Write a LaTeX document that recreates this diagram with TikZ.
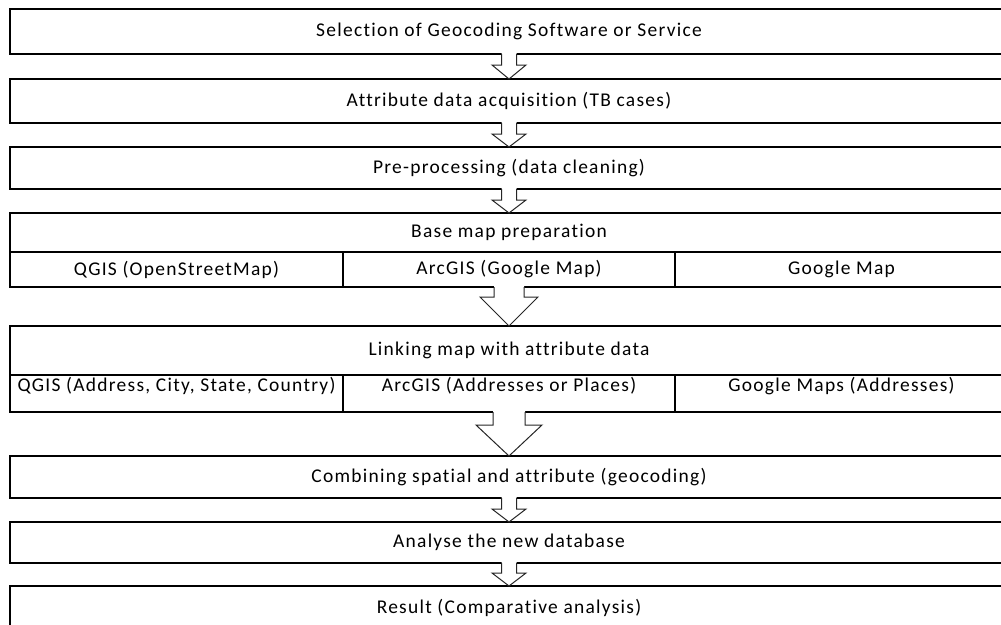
\documentclass[tikz,border=0pt]{standalone}
\usepackage{fontspec}
\setmainfont{Carlito}
\newfontfamily\boxfont{Carlito}[LetterSpace=6.5,Ligatures=NoCommon]
\usepackage{tikz}
\usetikzlibrary{calc,positioning}

\newdimen\px
\px=0.75pt

\tikzset{
  stage/.style={draw=black,line width=1.3\px,inner sep=0pt,outer sep=0pt,
    minimum width=998\px,anchor=center},
  cell/.style={draw=black,line width=1.3\px,inner sep=0pt,outer sep=0pt,anchor=center},
  label/.style={inner sep=1pt,font=\boxfont\fontsize{14.6}{17}\selectfont},
  arrowline/.style={draw=black!85,line width=1\px,line join=miter}
}

\newcommand{\blockarrow}[5]{%
  \fill[white] ($(#1.south)+(-#3,-1.5)$) -- ($(#2.north)+(-#3,-#5)$) -- ($(#2.north)+(-#4,-#5)$)
    -- (#2.north) -- ($(#2.north)+(#4,-#5)$) -- ($(#2.north)+(#3,-#5)$) -- ($(#1.south)+(#3,-1.5)$) -- cycle;
  \draw[arrowline] ($(#1.south)+(-#3,0)$) -- ($(#2.north)+(-#3,-#5)$) -- ($(#2.north)+(-#4,-#5)$)
    -- (#2.north) -- ($(#2.north)+(#4,-#5)$) -- ($(#2.north)+(#3,-#5)$) -- ($(#1.south)+(#3,0)$);
}

\begin{document}
\begin{tikzpicture}[x=0.75pt,y=-0.75pt]
\useasboundingbox (0,0) rectangle (1001,625);
\clip (0,0) rectangle (1001,625);

% main stages
\node[stage,minimum height=45\px,label] (select) at (509,31.5) {Selection of Geocoding Software or Service};
\node[stage,minimum height=44\px,label] (acquire) at (509,101) {Attribute data acquisition (TB cases)};
\node[stage,minimum height=42\px,label] (prep) at (509,168) {Pre-processing (data cleaning)};
\node[stage,minimum height=74\px] (basemap) at (509,250) {};
\node[stage,minimum height=86\px] (link) at (509,369) {};
\node[stage,minimum height=42\px,label] (combine) at (509,477) {Combining spatial and attribute (geocoding)};
\node[stage,minimum height=41\px,label] (analyse) at (509,542.5) {Analyse the new database};
\node[stage,minimum height=44\px,label] (result) at (509,608) {Result (Comparative analysis)};

% base map preparation
\node[label] (basemaphead) at (509,232.5) {Base map preparation};
\node[cell,minimum width=333\px,minimum height=35\px,label] (bmqgis) at (176.5,269.5) {QGIS (OpenStreetMap)};
\node[cell,minimum width=332\px,minimum height=35\px,label] (bmarc) at (509,269.5) {ArcGIS (Google Map)};
\node[cell,minimum width=333\px,minimum height=35\px,label] (bmgoogle) at (841.5,269.5) {Google Map};

% linking map with attribute data
\node[label] (linkhead) at (509,350.5) {Linking map with attribute data};
\node[cell,minimum width=333\px,minimum height=37\px] (lkqgis) at (176.5,393.5) {};
\node[cell,minimum width=332\px,minimum height=37\px] (lkarc) at (509,393.5) {};
\node[cell,minimum width=333\px,minimum height=37\px] (lkgoogle) at (841.5,393.5) {};
\node[label,below=0.5pt of lkqgis.north] (lkqgistext) {QGIS (Address, City, State, Country)};
\node[label,below=0.5pt of lkarc.north] (lkarctext) {ArcGIS (Addresses or Places)};
\node[label,below=0.5pt of lkgoogle.north] (lkgoogletext) {Google Maps (Addresses)};

% arrows
\blockarrow{select}{acquire}{7.5}{17}{14}
\blockarrow{acquire}{prep}{7.5}{17}{13}
\blockarrow{prep}{basemap}{7.5}{17}{13}
\blockarrow{basemap}{link}{15}{29}{29}
\blockarrow{link}{combine}{16}{33}{31}
\blockarrow{combine}{analyse}{7.5}{17}{13}
\blockarrow{analyse}{result}{7.5}{17}{13}
\end{tikzpicture}
\end{document}
